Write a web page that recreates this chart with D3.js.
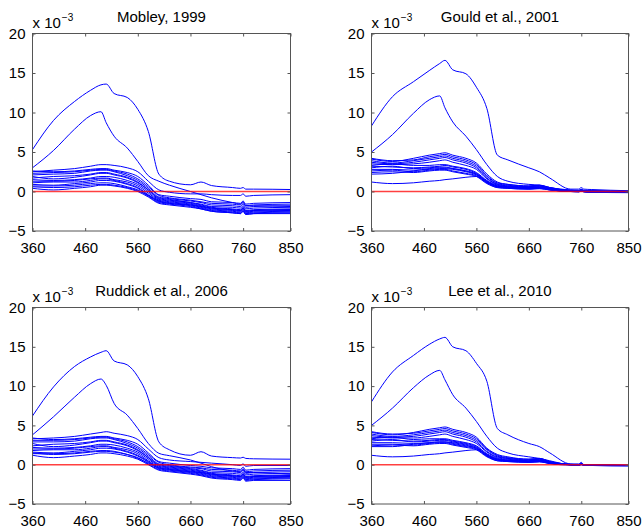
<!DOCTYPE html>
<html>
<head>
<meta charset="utf-8">
<script src="https://cdn.jsdelivr.net/npm/d3@7"></script>
<style>
  body { margin: 0; background: #fff; }
  svg { display: block; font-family: "Liberation Sans", Arial, sans-serif; }
</style>
</head>
<body>
<div id="chart"></div>
<script>
// wavelengths (nm) at which every spectrum is sampled
const wavelengths = [360, 400, 440, 470, 490, 500, 515, 540, 560, 580, 600, 620, 660, 680, 700, 740, 755, 760, 765, 780, 850];
const xTicks = [360, 460, 560, 660, 760, 850];
const yTicks = [-5, 0, 5, 10, 15, 20];
const titles = ["Mobley, 1999", "Gould et al., 2001", "Ruddick et al., 2006", "Lee et al., 2010"];

// values in units of 1e-3
const mobley = [
  [5.3, 9.0, 11.4, 12.8, 13.5, 13.6, 12.4, 11.9, 10.4, 7.6, 2.2, 1.3, 0.85, 1.2, 0.75, 0.5, 0.4, 0.5, 0.3, 0.3, 0.25],
  [3.0, 5.2, 7.9, 9.6, 10.1, 8.7, 7.0, 5.5, 3.8, 2.0, 1.3, 0.8, 0.0, -0.4, -0.8, -1.4, -1.6, -1.3, -1.8, -1.8, -1.9],
  [2.5, 2.7, 2.9, 3.2, 3.4, 3.4, 3.3, 3.0, 2.5, 1.3, 0.2, -0.1, -0.3, -0.3, -0.4, -0.5, -0.5, -0.3, -0.6, -0.5, -0.4],
  [2.6, 2.5, 2.6, 2.8, 2.9, 2.9, 2.7, 2.4, 1.9, 0.8, -0.4, -0.6, -0.9, -1.0, -1.3, -1.4, -1.5, -1.2, -1.6, -1.5, -1.4],
  [2.3, 2.4, 2.5, 2.7, 2.8, 2.8, 2.6, 2.2, 1.6, 0.6, -0.5, -0.8, -1.1, -1.3, -1.5, -1.6, -1.7, -1.4, -1.8, -1.7, -1.6],
  [2.1, 2.2, 2.3, 2.6, 2.7, 2.7, 2.5, 2.0, 1.4, 0.4, -0.7, -0.9, -1.2, -1.4, -1.7, -1.8, -1.9, -1.6, -2.0, -1.9, -1.8],
  [1.9, 1.6, 1.8, 2.1, 2.3, 2.3, 2.1, 1.7, 1.1, 0.2, -0.8, -1.0, -1.4, -1.6, -1.9, -2.0, -2.1, -1.8, -2.2, -2.1, -2.0],
  [1.7, 1.9, 2.0, 2.2, 2.4, 2.4, 2.2, 1.8, 1.2, 0.2, -0.9, -1.1, -1.4, -1.7, -2.0, -2.2, -2.3, -2.0, -2.4, -2.3, -2.2],
  [1.5, 1.4, 1.5, 1.7, 1.9, 1.9, 1.8, 1.4, 0.9, 0.0, -1.0, -1.2, -1.5, -1.8, -2.1, -2.3, -2.4, -2.1, -2.5, -2.4, -2.3],
  [1.3, 1.3, 1.4, 1.6, 1.7, 1.7, 1.5, 1.2, 0.7, -0.2, -1.1, -1.3, -1.6, -1.9, -2.2, -2.4, -2.5, -2.2, -2.6, -2.5, -2.4],
  [1.1, 1.2, 1.2, 1.4, 1.6, 1.6, 1.4, 1.0, 0.5, -0.4, -1.2, -1.4, -1.7, -2.0, -2.3, -2.5, -2.6, -2.3, -2.7, -2.6, -2.5],
  [0.9, 0.8, 1.0, 1.2, 1.4, 1.4, 1.3, 0.9, 0.4, -0.5, -1.3, -1.5, -1.8, -2.1, -2.4, -2.6, -2.7, -2.4, -2.8, -2.7, -2.6],
  [0.7, 0.7, 0.8, 1.0, 1.1, 1.1, 1.0, 0.6, 0.2, -0.6, -1.4, -1.6, -1.9, -2.2, -2.5, -2.7, -2.8, -2.5, -2.9, -2.8, -2.7],
  [0.4, 0.2, 0.4, 0.6, 0.8, 0.8, 0.7, 0.4, 0.0, -0.7, -1.5, -1.7, -2.0, -2.2, -2.5, -2.7, -2.8, -2.5, -2.9, -2.8, -2.8],
  [0.6, 0.5, 0.6, 0.8, 0.9, 0.9, 0.8, 0.5, 0.1, -0.5, -1.2, -1.5, -1.7, -1.9, -2.1, -2.3, -2.4, -2.1, -2.5, -2.4, -2.3]
];

const gould = [
  [8.3, 12.0, 13.9, 15.3, 16.2, 16.6, 15.4, 14.9, 13.2, 10.5, 4.6, 4.0, 3.0, 2.5, 1.7, 0.3, 0.3, 0.5, 0.3, 0.25, 0.1],
  [5.0, 7.2, 9.9, 11.6, 12.1, 10.6, 8.8, 7.0, 5.3, 3.4, 1.9, 1.3, 0.9, 0.8, 0.5, 0.1, 0.1, 0.2, 0.1, 0.1, 0.05],
  [4.1, 3.8, 4.2, 4.6, 4.8, 4.9, 4.6, 4.2, 3.6, 2.2, 1.2, 0.9, 0.7, 0.8, 0.5, 0.2, 0.15, 0.3, 0.15, 0.1, 0.0],
  [4.2, 3.9, 4.0, 4.4, 4.6, 4.7, 4.4, 4.0, 3.4, 2.0, 1.1, 0.9, 0.7, 0.8, 0.5, 0.15, 0.1, 0.25, 0.1, 0.05, 0.0],
  [3.9, 3.6, 3.9, 4.2, 4.4, 4.5, 4.2, 3.8, 3.2, 1.9, 1.0, 0.8, 0.6, 0.7, 0.4, 0.1, 0.1, 0.2, 0.1, 0.05, -0.05],
  [3.7, 3.5, 3.7, 4.0, 4.2, 4.3, 4.0, 3.6, 3.0, 1.7, 0.9, 0.7, 0.6, 0.7, 0.4, 0.1, 0.05, 0.2, 0.05, 0.0, -0.05],
  [3.5, 3.4, 3.5, 3.7, 3.9, 4.0, 3.7, 3.3, 2.8, 1.6, 0.9, 0.7, 0.5, 0.6, 0.35, 0.1, 0.05, 0.15, 0.05, 0.0, -0.1],
  [3.3, 3.5, 3.3, 3.3, 3.4, 3.4, 3.2, 2.9, 2.4, 1.4, 0.8, 0.6, 0.5, 0.6, 0.3, 0.05, 0.0, 0.1, 0.0, -0.05, -0.1],
  [3.2, 3.1, 3.0, 3.1, 3.2, 3.3, 3.1, 2.8, 2.3, 1.3, 0.7, 0.6, 0.4, 0.5, 0.3, 0.05, 0.0, 0.1, 0.0, -0.05, -0.1],
  [3.0, 3.2, 2.9, 3.0, 3.1, 3.1, 2.9, 2.6, 2.2, 1.2, 0.7, 0.5, 0.4, 0.5, 0.25, 0.0, 0.0, 0.1, 0.0, -0.05, -0.1],
  [2.8, 2.8, 2.7, 2.8, 2.9, 2.9, 2.8, 2.5, 2.1, 1.2, 0.6, 0.5, 0.4, 0.5, 0.25, 0.0, 0.0, 0.1, 0.0, -0.05, -0.1],
  [2.6, 2.7, 2.5, 2.7, 2.8, 2.8, 2.6, 2.3, 2.0, 1.1, 0.6, 0.5, 0.35, 0.4, 0.2, 0.0, -0.05, 0.05, -0.05, -0.1, -0.1],
  [2.4, 2.5, 2.4, 2.6, 2.7, 2.7, 2.5, 2.2, 1.9, 1.0, 0.5, 0.4, 0.3, 0.4, 0.2, 0.0, -0.05, 0.05, -0.05, -0.1, -0.15],
  [2.2, 2.3, 2.6, 2.9, 3.0, 3.0, 2.9, 2.6, 2.2, 1.3, 0.7, 0.5, 0.4, 0.5, 0.25, 0.05, 0.0, 0.1, 0.0, -0.05, -0.1],
  [1.2, 1.0, 1.1, 1.3, 1.4, 1.5, 1.6, 1.8, 1.9, 1.1, 0.5, 0.4, 0.3, 0.35, 0.2, 0.0, 0.0, 0.05, 0.0, -0.05, -0.1]
];

const ruddick = [
  [6.2, 9.9, 12.5, 13.7, 14.3, 14.5, 13.2, 12.7, 11.2, 8.4, 2.9, 1.9, 1.2, 1.65, 1.1, 0.9, 0.85, 0.95, 0.8, 0.75, 0.7],
  [3.8, 6.1, 8.6, 10.3, 10.9, 10.1, 7.8, 6.3, 4.6, 2.7, 1.45, 1.15, 0.6, 0.2, -0.25, -0.8, -0.9, -0.6, -1.0, -1.0, -1.2],
  [3.3, 3.4, 3.6, 3.9, 4.1, 4.2, 4.0, 3.7, 3.2, 2.0, 0.9, 0.6, 0.4, 0.3, 0.2, 0.0, -0.1, 0.1, -0.2, -0.1, -0.1],
  [3.4, 3.2, 3.3, 3.5, 3.6, 3.6, 3.4, 3.1, 2.6, 1.5, 0.4, 0.2, -0.1, -0.2, -0.4, -0.5, -0.6, -0.3, -0.7, -0.6, -0.5],
  [3.1, 3.1, 3.2, 3.4, 3.5, 3.5, 3.3, 2.9, 2.3, 1.3, 0.3, 0.0, -0.3, -0.4, -0.6, -0.7, -0.8, -0.5, -0.9, -0.8, -0.7],
  [2.9, 2.9, 3.0, 3.3, 3.4, 3.4, 3.2, 2.7, 2.1, 1.1, 0.1, -0.1, -0.4, -0.5, -0.8, -0.9, -1.0, -0.7, -1.1, -1.0, -0.9],
  [2.7, 2.3, 2.5, 2.8, 3.0, 3.0, 2.8, 2.4, 1.8, 0.9, 0.0, -0.2, -0.5, -0.7, -1.0, -1.1, -1.2, -0.9, -1.3, -1.2, -1.1],
  [2.4, 2.6, 2.7, 2.9, 3.1, 3.1, 2.9, 2.5, 1.9, 0.9, -0.1, -0.3, -0.6, -0.8, -1.1, -1.3, -1.4, -1.1, -1.5, -1.4, -1.3],
  [2.2, 2.1, 2.2, 2.4, 2.6, 2.6, 2.5, 2.1, 1.6, 0.7, -0.2, -0.4, -0.7, -0.9, -1.2, -1.4, -1.5, -1.2, -1.6, -1.5, -1.4],
  [2.0, 2.0, 2.1, 2.3, 2.4, 2.4, 2.2, 1.9, 1.4, 0.5, -0.3, -0.5, -0.8, -1.0, -1.3, -1.5, -1.6, -1.3, -1.7, -1.6, -1.5],
  [1.8, 1.9, 1.9, 2.1, 2.3, 2.3, 2.1, 1.7, 1.2, 0.4, -0.4, -0.6, -0.9, -1.1, -1.4, -1.6, -1.7, -1.4, -1.8, -1.7, -1.6],
  [1.6, 1.5, 1.7, 1.9, 2.1, 2.1, 2.0, 1.6, 1.1, 0.3, -0.5, -0.7, -1.0, -1.2, -1.5, -1.7, -1.8, -1.5, -1.9, -1.8, -1.7],
  [1.4, 1.4, 1.5, 1.7, 1.8, 1.8, 1.7, 1.3, 0.9, 0.1, -0.6, -0.8, -1.1, -1.3, -1.6, -1.8, -1.9, -1.6, -2.0, -1.9, -1.8],
  [1.2, 0.9, 1.1, 1.3, 1.5, 1.5, 1.4, 1.1, 0.7, 0.0, -0.7, -0.9, -1.2, -1.4, -1.7, -1.9, -2.0, -1.7, -2.1, -2.0, -2.0],
  [1.5, 1.3, 1.4, 1.6, 1.7, 1.7, 1.6, 1.3, 0.8, 0.2, -0.4, -0.6, -0.9, -1.0, -1.2, -1.4, -1.5, -1.2, -1.6, -1.5, -1.4]
];

const lee = [
  [8.0, 11.8, 13.9, 15.3, 16.0, 16.2, 15.0, 14.5, 12.9, 10.6, 4.6, 3.8, 2.7, 2.3, 1.5, 0.1, 0.1, 0.3, 0.0, 0.0, -0.05],
  [5.0, 7.2, 9.8, 11.4, 12.0, 10.8, 8.9, 7.2, 5.5, 3.6, 2.1, 1.5, 1.0, 0.8, 0.5, 0.0, 0.0, 0.1, 0.0, -0.05, -0.1],
  [4.1, 3.8, 4.1, 4.5, 4.7, 4.8, 4.5, 4.1, 3.5, 2.1, 1.3, 1.0, 0.7, 0.8, 0.4, 0.05, 0.0, 0.15, 0.0, -0.05, -0.1],
  [4.2, 3.9, 4.0, 4.3, 4.5, 4.6, 4.3, 3.9, 3.3, 2.0, 1.2, 0.9, 0.7, 0.8, 0.4, 0.05, 0.0, 0.1, 0.0, -0.05, -0.1],
  [3.9, 3.6, 3.8, 4.1, 4.3, 4.4, 4.1, 3.7, 3.1, 1.9, 1.1, 0.8, 0.6, 0.7, 0.35, 0.0, 0.0, 0.1, -0.05, -0.05, -0.1],
  [3.7, 3.5, 3.6, 3.9, 4.1, 4.2, 3.9, 3.5, 2.9, 1.7, 1.0, 0.8, 0.6, 0.7, 0.3, 0.0, 0.0, 0.1, -0.05, -0.05, -0.1],
  [3.5, 3.4, 3.4, 3.6, 3.8, 3.9, 3.6, 3.2, 2.7, 1.6, 0.9, 0.7, 0.5, 0.6, 0.3, 0.0, -0.05, 0.05, -0.05, -0.1, -0.1],
  [3.3, 3.5, 3.2, 3.3, 3.3, 3.3, 3.1, 2.8, 2.4, 1.4, 0.8, 0.6, 0.5, 0.6, 0.25, 0.0, -0.05, 0.05, -0.05, -0.1, -0.1],
  [3.2, 3.1, 3.0, 3.1, 3.2, 3.2, 3.0, 2.7, 2.3, 1.3, 0.7, 0.6, 0.4, 0.5, 0.25, 0.0, -0.05, 0.05, -0.05, -0.1, -0.1],
  [3.0, 3.2, 2.9, 3.0, 3.1, 3.1, 2.9, 2.6, 2.2, 1.2, 0.7, 0.5, 0.4, 0.5, 0.2, 0.0, -0.05, 0.05, -0.05, -0.1, -0.1],
  [2.8, 2.8, 2.7, 2.8, 2.9, 2.9, 2.7, 2.4, 2.1, 1.2, 0.6, 0.5, 0.4, 0.45, 0.2, 0.0, -0.05, 0.05, -0.05, -0.1, -0.1],
  [2.6, 2.6, 2.5, 2.7, 2.8, 2.8, 2.6, 2.3, 2.0, 1.1, 0.6, 0.5, 0.35, 0.4, 0.2, 0.0, -0.05, 0.05, -0.05, -0.1, -0.15],
  [2.4, 2.5, 2.4, 2.6, 2.7, 2.7, 2.5, 2.2, 1.9, 1.0, 0.5, 0.4, 0.3, 0.4, 0.15, -0.05, -0.05, 0.0, -0.05, -0.1, -0.15],
  [2.3, 2.3, 2.6, 2.8, 2.9, 2.9, 2.8, 2.5, 2.1, 1.3, 0.7, 0.5, 0.4, 0.5, 0.2, 0.0, -0.05, 0.05, -0.05, -0.1, -0.1],
  [1.2, 1.0, 1.1, 1.3, 1.4, 1.5, 1.6, 1.8, 1.9, 1.1, 0.5, 0.4, 0.3, 0.35, 0.15, 0.0, -0.05, 0.0, -0.05, -0.1, -0.1]
];

const width = 643, height = 530;

// plot boxes (left, top, width, height) in page pixels
const panels = [
  { title: titles[0], series: mobley,  left: 32.5,  top: 33.5,  w: 258, h: 197.5 },
  { title: titles[1], series: gould,   left: 371.5, top: 33.5,  w: 257, h: 197.5 },
  { title: titles[2], series: ruddick, left: 32.5,  top: 307.5, w: 258, h: 196.5 },
  { title: titles[3], series: lee,     left: 371.5, top: 307.5, w: 257, h: 196.5 }
];

const svg = d3.select('#chart').append('svg')
  .attr('width', width)
  .attr('height', height);

const fmt = d => d < 0 ? '\u2212' + Math.abs(d) : String(d);

panels.forEach(p => {
  const g = svg.append('g')
    .attr('transform', `translate(${p.left},${p.top})`);

  const x = d3.scaleLinear().domain([360, 850]).range([0, p.w]);
  const y = d3.scaleLinear().domain([-5, 20]).range([p.h, 0]);

  const line = d3.line()
    .x((d, i) => x(wavelengths[i]))
    .y(d => y(d))
    .curve(d3.curveMonotoneX);

  // spectra
  g.selectAll('.spectrum')
    .data(p.series)
    .join('path')
    .attr('class', 'spectrum')
    .attr('d', line)
    .attr('fill', 'none')
    .attr('stroke', '#0000ff')
    .attr('stroke-width', 1);

  // zero line
  g.append('line')
    .attr('x1', x(360)).attr('x2', x(850))
    .attr('y1', y(0)).attr('y2', y(0))
    .attr('stroke', '#ff0000')
    .attr('stroke-opacity', 0.75)
    .attr('stroke-width', 1.4);

  // axes: ticks pointing inward on all four sides
  const bottom = g.append('g')
    .attr('transform', `translate(0,${p.h})`)
    .call(d3.axisBottom(x).tickValues(xTicks).tickSizeInner(-3).tickSizeOuter(0).tickPadding(11));
  const top = g.append('g')
    .call(d3.axisTop(x).tickValues(xTicks).tickSizeInner(-3).tickSizeOuter(0).tickFormat(''));
  const left = g.append('g')
    .call(d3.axisLeft(y).tickValues(yTicks).tickSizeInner(-3).tickSizeOuter(0).tickPadding(7).tickFormat(fmt));
  const right = g.append('g')
    .attr('transform', `translate(${p.w},0)`)
    .call(d3.axisRight(y).tickValues(yTicks).tickSizeInner(-3).tickSizeOuter(0).tickFormat(''));

  [bottom, top, left, right].forEach(a => {
    a.select('.domain').remove();
    a.selectAll('line').attr('stroke', '#555');
    a.selectAll('text').attr('fill', '#000').style('font-size', '15px');
  });

  // box
  g.append('rect')
    .attr('width', p.w)
    .attr('height', p.h)
    .attr('fill', 'none')
    .attr('stroke', '#555')
    .attr('stroke-width', 1);

  // title
  g.append('text')
    .attr('x', p.w / 2)
    .attr('y', -12)
    .attr('text-anchor', 'middle')
    .style('font-size', '15px')
    .text(p.title);

  // exponent label
  const ex = g.append('text')
    .attr('x', 0)
    .attr('y', -5.5)
    .style('font-size', '15px')
    .text('x 10');
  ex.append('tspan')
    .attr('dy', -7)
    .attr('dx', 1)
    .style('font-size', '10px')
    .text('\u22123');
});
</script>
</body>
</html>
